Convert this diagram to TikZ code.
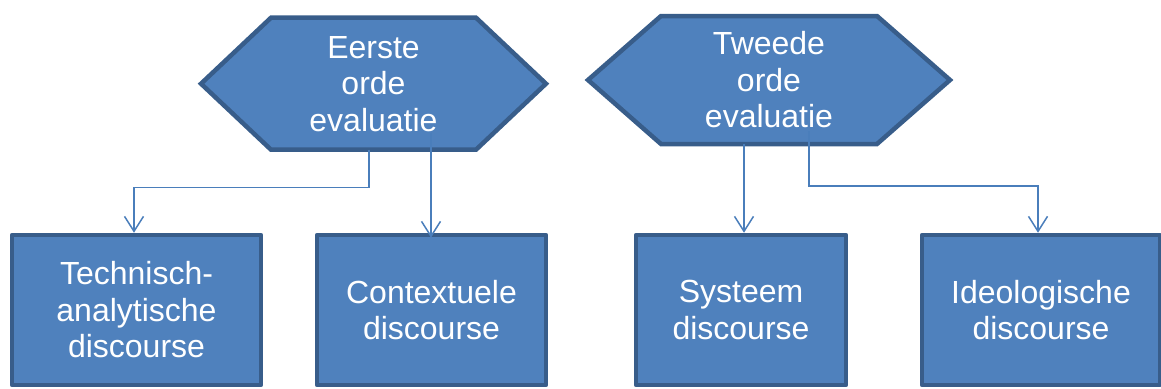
\documentclass[tikz,border=0pt]{standalone}
\usepackage{fontspec}
\setmainfont{Liberation Sans}
\usetikzlibrary{arrows.meta,backgrounds,calc}

\definecolor{vlak}{HTML}{4F81BD}
\definecolor{rand}{HTML}{385D8A}
\definecolor{lijn}{HTML}{4A7EBB}

\tikzset{
  tekst/.style={text=white,align=center,font=\fontsize{32}{36.5}\selectfont},
  blok/.style={tekst,draw=rand,fill=vlak,line width=4.5pt,line join=round,minimum height=150pt},
  hexnode/.style={tekst,outer sep=0pt},
  pijl/.style={draw=lijn,line width=1.5pt,-{Straight Barb[length=15pt,width=19pt]}}
}

% zeshoek achter een (onzichtbare) node: naam, inspringing
\newcommand{\hexrand}[2]{%
  \begin{scope}[on background layer]
    \draw[rand,fill=vlak,line width=4.5pt]
      (#1.west) -- ([xshift=#2]#1.north west) -- ([xshift=-#2]#1.north east)
      -- (#1.east) -- ([xshift=-#2]#1.south east) -- ([xshift=#2]#1.south west) -- cycle;
  \end{scope}}

\begin{document}
\begin{tikzpicture}[x=1pt,y=-1pt]
  \useasboundingbox (0,0) rectangle (1161,388);

  % bovenste laag
  \node[hexnode,minimum width=345pt,minimum height=132pt](eerste) at (373.5,83.7){Eerste\\orde\\evaluatie};
  \node[hexnode,minimum width=362pt,minimum height=128pt](tweede) at (769,80){Tweede\\orde\\evaluatie};
  \hexrand{eerste}{70pt}
  \hexrand{tweede}{73pt}

  % onderste laag
  \node[blok,minimum width=249pt](techn) at (136.5,310){Technisch-\\analytische\\discourse};
  \node[blok,minimum width=229pt](ctx) at (431.5,310){Contextuele\\discourse};
  \node[blok,minimum width=210pt](sys) at (741,310){Systeem\\discourse};
  \node[blok,minimum width=238pt](ideo) at (1041,310){Ideologische\\discourse};

  % verbindingen
  \draw[pijl] ([xshift=-4.5pt]eerste.south) -- ++(0,38) -| ([xshift=-2.5pt]techn.north);
  \draw[pijl,shorten >=-5pt] ($(eerste.south -| ctx.north)+(-0.5,-17)$) -- ([xshift=-0.5pt]ctx.north);
  \draw[pijl] ([xshift=3pt]tweede.south -| sys.north) -- ([xshift=3pt]sys.north);
  \draw[pijl] ($(tweede.south)+(40,-13)$) -- ++(0,55) -| ([xshift=-3pt]ideo.north);
\end{tikzpicture}
\end{document}
